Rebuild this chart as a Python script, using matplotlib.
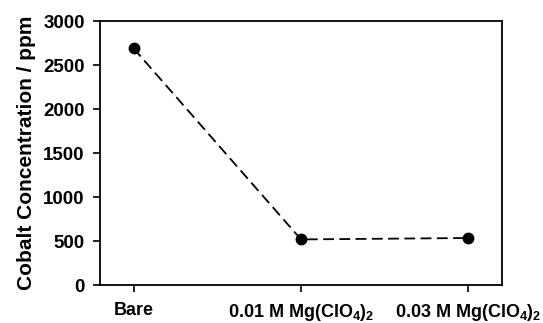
import matplotlib
matplotlib.use('Agg')
from matplotlib import pyplot as plt

categories = ['Bare', r'0.01 M Mg(ClO$_4$)$_2$', r'0.03 M Mg(ClO$_4$)$_2$']
cobalt_ppm = [2690, 518, 534]

plt.rcParams['font.family'] = 'Liberation Sans'
plt.rcParams['font.weight'] = 'bold'
plt.rcParams['mathtext.fontset'] = 'custom'
plt.rcParams['mathtext.rm'] = 'Liberation Sans:bold'
plt.rcParams['mathtext.it'] = 'Liberation Sans:bold'
plt.rcParams['mathtext.bf'] = 'Liberation Sans:bold'
plt.rcParams['mathtext.default'] = 'rm'

fig = plt.figure(figsize=(5.43, 3.23), dpi=100)
ax = fig.add_axes([100 / 543, 38 / 323, 402 / 543, 264 / 323])

x = list(range(len(categories)))
ax.plot(x, cobalt_ppm, linestyle=(0, (6, 3)), color='black', linewidth=1.3,
        marker='o', markersize=7.5)

ax.set_xlim(-0.2, 2.2)
ax.set_ylim(0, 3000)
ax.set_yticks(range(0, 3001, 500))
ax.set_xticks(x)
ax.set_xticklabels(categories, fontsize=13, fontweight='bold')
ax.tick_params(axis='y', labelsize=13.5, direction='out', length=5, width=1.2, pad=6)
ax.tick_params(axis='x', direction='out', length=5, width=1.2, pad=7)
for lab in ax.get_yticklabels():
    lab.set_fontweight('bold')
for s in ax.spines.values():
    s.set_linewidth(1.3)

ax.set_ylabel('Cobalt Concentration / ppm', fontsize=15, fontweight='bold', labelpad=5)

fig.savefig('out.png', dpi=100)
